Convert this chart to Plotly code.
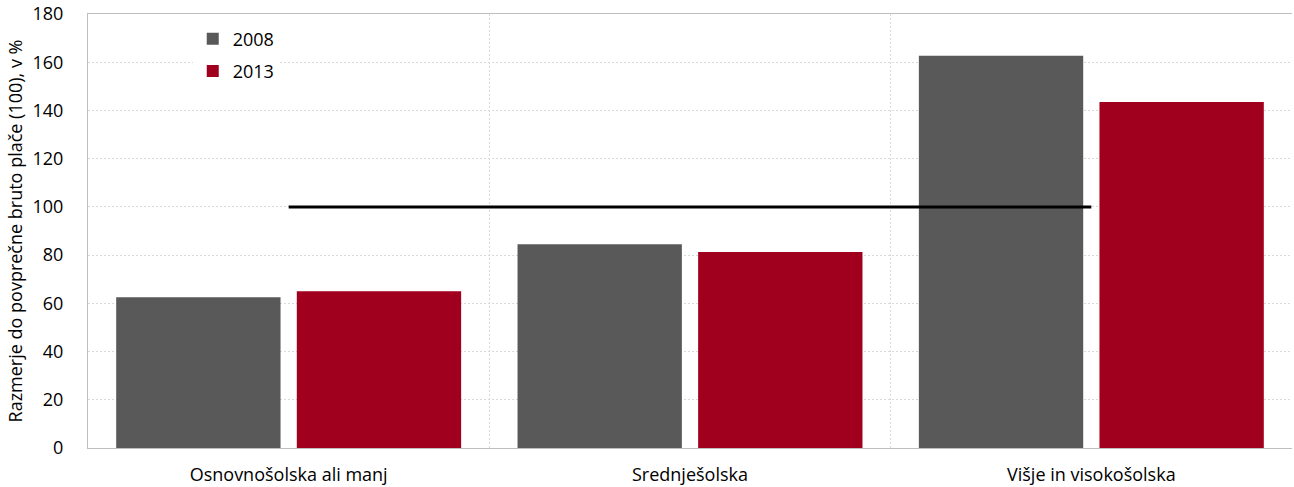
import plotly.graph_objects as go

categories = ["Osnovnošolska ali manj", "Srednješolska", "Višje in visokošolska"]
values_2008 = [62.5, 84.5, 162.7]
values_2013 = [65.0, 81.3, 143.5]
reference_level = [100, 100]
series_names = ["2008", "2013"]

font_family = "'Open Sans', sans-serif"
fs = 18

fig = go.Figure()
fig.add_trace(go.Bar(x=categories, y=values_2008, name=series_names[0],
                     legendgroup="a",
                     marker=dict(color="#595959", line=dict(width=0))))
fig.add_trace(go.Bar(x=categories, y=values_2013, name=series_names[1],
                     legendgroup="b",
                     marker=dict(color="#A0001E", line=dict(width=0))))
fig.add_trace(go.Scatter(x=[categories[0], categories[-1]], y=reference_level,
                         mode="lines", line=dict(color="black", width=3),
                         showlegend=False, hoverinfo="skip"))

fig.update_layout(
    width=1294, height=487,
    margin=dict(l=88, r=2, t=14, b=39, autoexpand=False),
    paper_bgcolor="white", plot_bgcolor="white",
    font=dict(family=font_family, size=fs, color="black"),
    barmode="group", bargap=0.1, bargroupgap=0.09,
    legend=dict(x=0.087, y=0.985, xanchor="left", yanchor="top",
                bgcolor="white", font=dict(size=fs), itemwidth=30,
                traceorder="grouped", tracegroupgap=6),
    xaxis=dict(type="category", tickson="boundaries", showgrid=True,
               gridcolor="#D9D9D9", griddash="2px,2px", gridwidth=1,
               showline=True, linecolor="#BFBFBF", linewidth=1, mirror=True,
               ticks="", tickfont=dict(size=fs), automargin=False,
               ticklabelstandoff=10),
    yaxis=dict(range=[0, 180], dtick=20, showgrid=True, gridcolor="#D9D9D9",
               griddash="2px,2px", gridwidth=1, showline=True, linecolor="#BFBFBF",
               linewidth=1, ticks="", zeroline=False, tickfont=dict(size=fs),
               automargin=False, ticklabeloverflow="allow",
               ticklabelstandoff=20,
               title=dict(text="Razmerje do povprečne bruto plače (100), v %",
                          font=dict(size=fs), standoff=5)),
)

fig.write_html("out.html", config={"displayModeBar": False},
               post_script="document.body.style.margin='0';")
